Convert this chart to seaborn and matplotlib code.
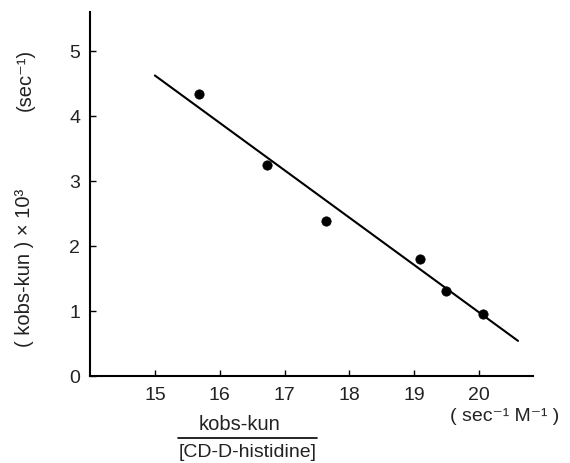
import numpy as np
import pandas as pd
import matplotlib
matplotlib.use("Agg")
import matplotlib.pyplot as plt
import seaborn as sns

# ========= DATA =========
ratio = [15.68, 16.73, 17.64, 19.09, 19.49, 20.06]   # (kobs-kun)/[CD-D-histidine]
rate = [4.33, 3.24, 2.38, 1.80, 1.30, 0.96]          # (kobs-kun) x 10^3
fit_x = [15.0, 20.6]
fit_y = [4.62, 0.54]
x_ticks = [15, 16, 17, 18, 19, 20]
y_ticks = [0, 1, 2, 3, 4, 5]

pts = pd.DataFrame({"x": ratio, "y": rate})
fit = pd.DataFrame({"x": fit_x, "y": fit_y})

# ========= PLOT =========
sns.set_style("ticks")
plt.rcParams["font.family"] = ["Liberation Sans", "DejaVu Sans"]
plt.rcParams["text.color"] = "#222222"

fig = plt.figure(figsize=(5.7, 4.64), dpi=100)
ax = fig.add_axes([0.158, 0.1875, 0.777, 0.785])

sns.lineplot(data=fit, x="x", y="y", ax=ax, color="black", linewidth=1.5)
sns.scatterplot(data=pts, x="x", y="y", ax=ax, color="black", s=45,
                edgecolor="black", zorder=3)

ax.set_xlim(14.0, 20.83)
ax.set_ylim(0, 5.6)
ax.set_xticks(x_ticks)
ax.set_yticks(y_ticks)
ax.tick_params(direction="in", length=4, width=1, labelsize=14, pad=7,
               color="black", labelcolor="#222222")
ax.set_xlabel("")
ax.set_ylabel("")
sns.despine(ax=ax)
for s in ["left", "bottom"]:
    ax.spines[s].set_linewidth(1.5)
    ax.spines[s].set_color("black")

# y label
fig.text(25 / 570, 1 - 268 / 464, "( kobs-kun ) × 10³", rotation=90,
         ha="center", va="center", fontsize=14.5)
fig.text(25 / 570, 1 - 80 / 464, "(sec⁻¹)", rotation=90,
         ha="center", va="center", fontsize=14.5)

# x label (fraction)
fig.text(240 / 570, 1 - 424 / 464, "kobs-kun", ha="center", va="center",
         fontsize=14.5)
fig.add_artist(plt.Line2D([178 / 570, 317 / 570], [1 - 439 / 464, 1 - 439 / 464],
                          color="black", linewidth=1.2))
fig.text(248 / 570, 1 - 453 / 464, "[CD-D-histidine]", ha="center",
         va="center", fontsize=14)
fig.text(505 / 570, 1 - 417 / 464, "( sec⁻¹ M⁻¹ )", ha="center",
         va="center", fontsize=14)

plt.savefig("out.png", dpi=100)
